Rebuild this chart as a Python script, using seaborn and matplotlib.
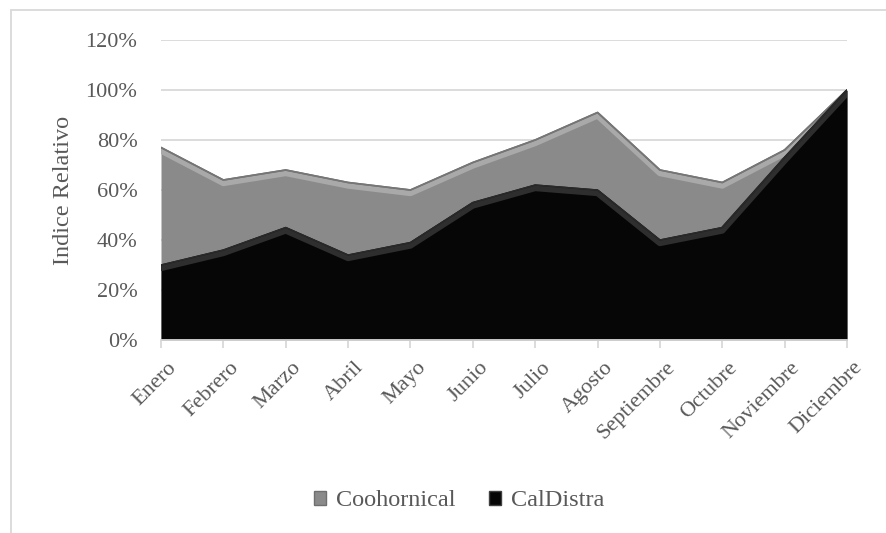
import matplotlib
matplotlib.use("Agg")
import matplotlib.pyplot as plt
import matplotlib.patheffects as pe
import matplotlib.transforms as mtransforms
from matplotlib.patches import Patch
from matplotlib.lines import Line2D
from matplotlib.ticker import PercentFormatter
import seaborn as sns
import pandas as pd

meses = ["Enero", "Febrero", "Marzo", "Abril", "Mayo", "Junio", "Julio",
         "Agosto", "Septiembre", "Octubre", "Noviembre", "Diciembre"]
coohornical = [77, 64, 68, 63, 60, 71, 80, 91, 68, 63, 76, 100]
caldistra = [30, 36, 45, 34, 39, 55, 62, 60, 40, 45, 73, 100]

df = pd.DataFrame({"mes": meses, "pos": range(len(meses)),
                   "Coohornical": coohornical, "CalDistra": caldistra})

sns.set_theme(style="white")
plt.rcParams["font.family"] = ["Liberation Serif", "DejaVu Serif"]
text_color = "#595959"
fs = 16

fig = plt.figure(figsize=(8.87, 5.33), dpi=100)
ax = fig.add_axes([161 / 887, 1 - 340 / 533, 686 / 887, 300 / 533])

# areas (overlapping, not stacked)
ax.fill_between(df["pos"], 0, df["Coohornical"], color="#8a8a8a", lw=0, zorder=2)
ax.fill_between(df["pos"], 0, df["CalDistra"], color="#060606", lw=0, zorder=3)

# bevel-like rims along the top edges
sns.lineplot(data=df, x="pos", y="Coohornical", ax=ax, color="#767676", lw=1.2,
             zorder=2.5, sort=False,
             path_effects=[pe.Stroke(linewidth=4.5, foreground="#a9a9a9", offset=(0, -2.2)),
                           pe.Stroke(linewidth=1.2, foreground="#6f6f6f"), pe.Normal()])
sns.lineplot(data=df, x="pos", y="CalDistra", ax=ax, color="#2a2a2a", lw=1.0,
             zorder=3.5, sort=False,
             path_effects=[pe.Stroke(linewidth=4.5, foreground="#2e2e2e", offset=(0, -2.2)),
                           pe.Stroke(linewidth=1.0, foreground="#1a1a1a"), pe.Normal()])

ax.set_xlim(0, len(meses) - 1)
ax.set_ylim(0, 120)
ax.set_yticks(range(0, 121, 20))
ax.yaxis.set_major_formatter(PercentFormatter(decimals=0))
ax.grid(axis="y", color="#d9d9d9", lw=1.3, zorder=0)
ax.set_axisbelow(True)

for s in ["top", "right", "left"]:
    ax.spines[s].set_visible(False)
ax.spines["bottom"].set_color("#d9d9d9")
ax.spines["bottom"].set_linewidth(1.3)
ax.spines["bottom"].set_zorder(5)

ax.set_xticks(df["pos"])
ax.set_xticklabels(meses, rotation=45, ha="right", rotation_mode="anchor")
ax.tick_params(axis="x", direction="out", length=6, width=1.3, color="#d9d9d9",
               labelsize=fs, labelcolor=text_color, pad=7, bottom=True)
ax.tick_params(axis="y", length=0, labelsize=fs, labelcolor=text_color, pad=17)
shift = mtransforms.ScaledTranslation(6 / 100, 0, fig.dpi_scale_trans)
for lbl in ax.get_xticklabels():
    lbl.set_transform(lbl.get_transform() + shift)

ax.set_xlabel("")
ax.set_ylabel("Indice Relativo", fontsize=17.5, color=text_color, labelpad=8)

handles = [Patch(facecolor="#8a8a8a", edgecolor="#6f6f6f", label="Coohornical"),
           Patch(facecolor="#060606", edgecolor="#404040", label="CalDistra")]
fig.legend(handles=handles, loc="center", bbox_to_anchor=(459 / 887, 1 - 501 / 533),
           ncol=2, frameon=False, fontsize=17.5, labelcolor=text_color,
           handlelength=0.5, handleheight=0.5, handletextpad=0.4, columnspacing=1.4)

# chart frame (left and top edges)
fig.add_artist(Line2D([11.5 / 887, 11.5 / 887], [0, 1 - 10 / 533], transform=fig.transFigure,
                      color="#d9d9d9", lw=1.3))
fig.add_artist(Line2D([11.5 / 887, 1], [1 - 10 / 533, 1 - 10 / 533], transform=fig.transFigure,
                      color="#d9d9d9", lw=1.3))

fig.savefig("out.png", dpi=100, facecolor="white")
